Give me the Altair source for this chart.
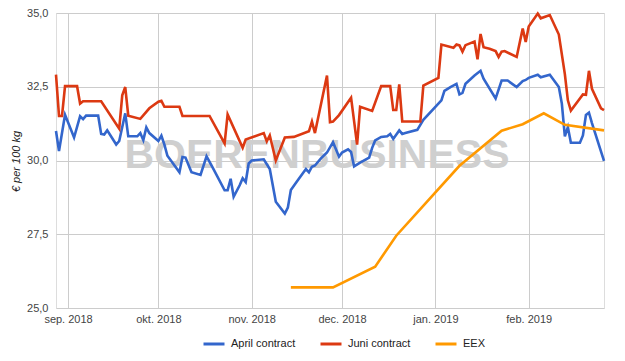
import altair as alt
import pandas as pd

april_dates = ["2018-08-28","2018-08-29","2018-08-31","2018-09-03","2018-09-05","2018-09-06","2018-09-07",
    "2018-09-11","2018-09-12","2018-09-13","2018-09-14","2018-09-17","2018-09-18","2018-09-20","2018-09-21",
    "2018-09-24","2018-09-25","2018-09-26","2018-09-27","2018-09-28","2018-10-01","2018-10-02","2018-10-03",
    "2018-10-04","2018-10-08","2018-10-09","2018-10-10","2018-10-12","2018-10-15","2018-10-17","2018-10-19",
    "2018-10-23","2018-10-24","2018-10-25","2018-10-26","2018-10-28","2018-10-29","2018-10-30","2018-10-31",
    "2018-11-01","2018-11-05","2018-11-07","2018-11-09","2018-11-12","2018-11-13","2018-11-14","2018-11-16",
    "2018-11-19","2018-11-20","2018-11-21","2018-11-22","2018-11-24","2018-11-26","2018-11-28","2018-11-30",
    "2018-12-01","2018-12-03","2018-12-04","2018-12-05","2018-12-07","2018-12-10","2018-12-11","2018-12-12",
    "2018-12-14","2018-12-16","2018-12-17","2018-12-18","2018-12-20","2018-12-21","2018-12-22","2018-12-26",
    "2018-12-28","2019-01-01","2019-01-03","2019-01-04","2019-01-06","2019-01-08","2019-01-09","2019-01-10",
    "2019-01-11","2019-01-14","2019-01-16","2019-01-17","2019-01-21","2019-01-23","2019-01-25","2019-01-28",
    "2019-01-30","2019-01-31","2019-02-01","2019-02-04","2019-02-05","2019-02-08","2019-02-11","2019-02-12",
    "2019-02-13","2019-02-14","2019-02-15","2019-02-18","2019-02-19","2019-02-20","2019-02-21","2019-02-22",
    "2019-02-26"]
april_values = [31.0,30.32,31.55,30.78,31.5,31.4,31.52,
    31.52,30.9,30.88,31.02,30.54,30.66,31.6,30.82,
    30.82,30.93,30.69,31.12,30.93,30.66,30.84,30.54,
    30.16,29.6,30.12,30.1,29.6,29.51,30.14,29.77,
    28.99,28.99,29.38,28.77,29.16,29.4,29.27,29.9,
    30.0,30.04,29.71,28.6,28.2,28.4,29.0,29.29,
    29.71,29.6,29.79,29.83,30.07,30.27,30.62,30.13,
    30.27,30.38,30.29,29.8,29.93,30.1,30.43,30.68,
    30.8,30.82,30.9,30.73,31.02,30.9,30.93,31.04,
    31.38,31.82,32.04,32.36,32.49,32.6,32.24,32.29,
    32.6,32.88,33.04,32.77,32.1,32.71,32.71,32.49,
    32.69,32.73,32.8,32.91,32.82,32.91,32.49,31.93,
    30.82,31.13,30.6,30.6,30.85,31.54,31.62,31.27,
    29.99]

juni_dates = ["2018-08-28","2018-08-29","2018-08-30","2018-08-31","2018-09-04","2018-09-05","2018-09-06",
    "2018-09-12","2018-09-18","2018-09-19","2018-09-20","2018-09-21","2018-09-25","2018-09-28","2018-10-01",
    "2018-10-02","2018-10-03","2018-10-08","2018-10-09","2018-10-18","2018-10-23","2018-10-24","2018-10-29",
    "2018-10-30","2018-11-05","2018-11-06","2018-11-07","2018-11-09","2018-11-12","2018-11-15","2018-11-20",
    "2018-11-21","2018-11-22","2018-11-26","2018-11-27","2018-11-28","2018-11-30","2018-12-04","2018-12-06",
    "2018-12-07","2018-12-11","2018-12-14","2018-12-17","2018-12-18","2018-12-19","2018-12-20","2018-12-21",
    "2018-12-27","2018-12-28","2019-01-02","2019-01-03","2019-01-07","2019-01-08","2019-01-09","2019-01-10",
    "2019-01-11","2019-01-14","2019-01-15","2019-01-16","2019-01-17","2019-01-19","2019-01-21","2019-01-22",
    "2019-01-23","2019-01-24","2019-01-28","2019-01-30","2019-01-31","2019-02-01","2019-02-04","2019-02-05",
    "2019-02-08","2019-02-11","2019-02-13","2019-02-14","2019-02-15","2019-02-18","2019-02-19","2019-02-20",
    "2019-02-21","2019-02-22","2019-02-25","2019-02-26"]
juni_values = [32.91,31.51,31.51,32.52,32.52,31.93,32.01,
    32.01,31.08,32.21,32.49,31.52,31.41,31.77,31.99,
    32.02,31.82,31.82,31.51,31.51,30.58,31.56,30.43,
    30.71,30.93,30.65,30.85,30.0,30.78,30.8,30.99,
    31.32,30.93,32.88,31.3,31.32,31.54,32.13,30.54,
    31.82,31.68,32.52,32.52,31.71,31.71,32.58,31.32,
    31.32,32.54,32.8,33.93,33.82,33.93,33.9,33.69,
    33.91,34.03,33.43,34.29,33.84,33.79,33.71,33.51,
    33.69,33.71,33.51,34.47,34.02,34.54,34.98,34.82,
    34.93,34.27,32.93,32.04,31.69,32.1,32.24,32.23,
    33.04,32.43,31.77,31.71]

eex_dates = ["2018-11-14","2018-11-28","2018-12-12","2018-12-19","2019-01-09","2019-01-23","2019-01-30",
    "2019-02-06","2019-02-13","2019-02-26"]
eex_values = [25.7,25.7,26.4,27.45,29.82,31.01,31.23,31.6,31.21,31.02]

series_names = ["April contract", "Juni contract", "EEX"]
series_colors = ["#3366cc", "#dc3912", "#ff9900"]
month_ticks = [(2018, 9), (2018, 10), (2018, 11), (2018, 12), (2019, 1), (2019, 2)]
y_ticks = [25, 27.5, 30, 32.5, 35]

rows = []
for name, ds, vs in zip(series_names, [april_dates, juni_dates, eex_dates],
                        [april_values, juni_values, eex_values]):
    for d, v in zip(ds, vs):
        rows.append({"date": d, "value": v, "serie": name})
df = pd.DataFrame(rows)

FONT = "Liberation Sans"

x_enc = alt.X("date:T",
    scale=alt.Scale(type="utc", nice=False,
                    domain=[alt.DateTime(year=2018, month=8, date=28, utc=True),
                            alt.DateTime(year=2019, month=2, date=26, utc=True)]),
    axis=alt.Axis(title=None, values=[alt.DateTime(year=y, month=m, date=1, utc=True) for y, m in month_ticks],
                  labelExpr="['jan.','feb.','mrt.','apr.','mei','jun.','jul.','aug.','sep.','okt.','nov.','dec.'][utcmonth(datum.value)] + ' ' + utcyear(datum.value)",
                  grid=True, gridColor="#cccccc", domain=False, ticks=False,
                  labelPadding=5, labelFontSize=11, labelFont=FONT, labelColor="#444444"))
y_enc = alt.Y("value:Q",
    scale=alt.Scale(domain=[25, 35], nice=False, zero=False),
    axis=alt.Axis(title="€ per 100 kg", values=y_ticks,
                  labelExpr="replace(format(datum.value, '.1f'), '.', ',')",
                  grid=True, gridColor="#cccccc", domain=False, ticks=False,
                  labelPadding=8, labelFontSize=11, labelFont=FONT, labelColor="#444444",
                  titleFont=FONT, titleFontSize=11, titleFontStyle="italic", titleFontWeight="normal",
                  titleColor="#222222", titleX=-40, titleY=148, titleBaseline="middle"))

lines = alt.Chart(df).mark_line(strokeWidth=2.6, interpolate="linear").encode(
    x=x_enc, y=y_enc,
    color=alt.Color("serie:N",
        scale=alt.Scale(domain=series_names, range=series_colors),
        legend=alt.Legend(title=None, orient="none", legendX=146, legendY=319,
                          direction="horizontal", symbolType="stroke", symbolSize=441,
                          symbolStrokeWidth=3, labelFontSize=11, labelFont=FONT,
                          labelColor="#222222", columnPadding=18, labelOffset=5, padding=0)),
    order=alt.Order("date:T"),
)

watermark = alt.Chart(pd.DataFrame({"t": ["BOERENBUSINESS"]})).mark_text(
    font=FONT, fontSize=41, fontWeight="bold", color="#cfcfcf",
    align="center", baseline="alphabetic"
).encode(text="t:N", x=alt.value(261), y=alt.value(155))

chart = alt.layer(watermark, lines).properties(
    width=548, height=295,
    autosize=alt.AutoSizeParams(type="none"),
    padding={"left": 48, "top": 5, "right": 13, "bottom": 52},
).configure_view(stroke=None).configure(background="white")

chart.save("out.html", embed_options={"renderer": "svg", "actions": False})
